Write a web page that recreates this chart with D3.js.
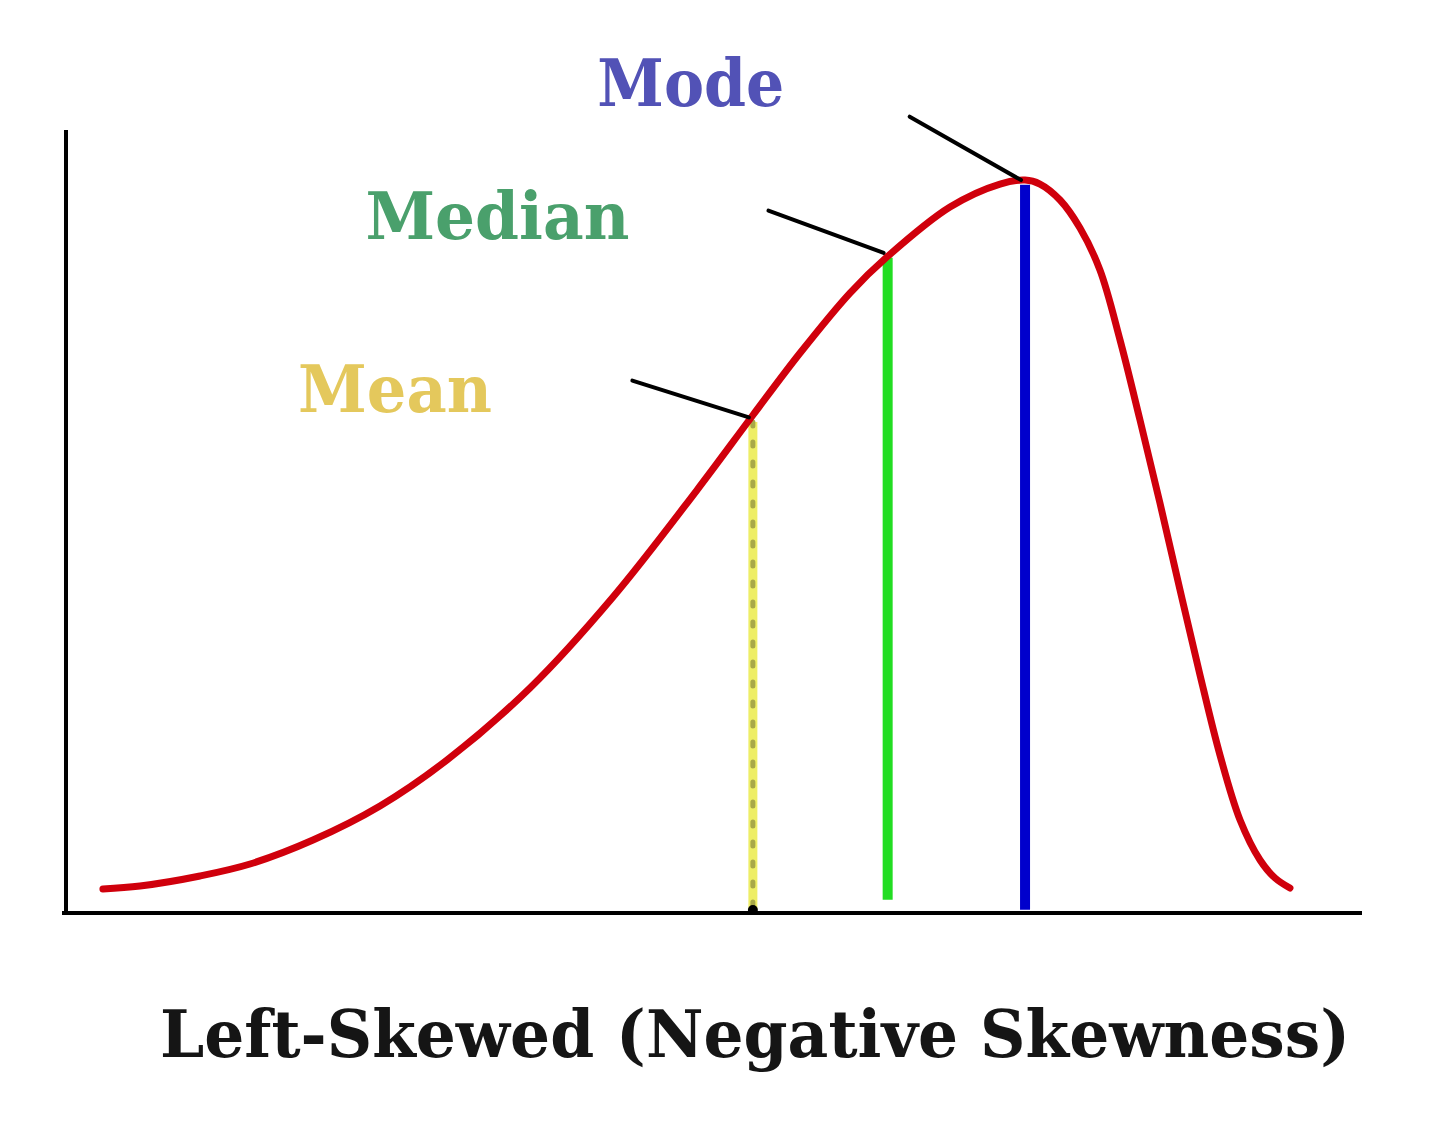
<!DOCTYPE html>
<html>
<head>
<meta charset="utf-8">
<script src="https://cdn.jsdelivr.net/npm/d3@7"></script>
<style>
  html, body { margin: 0; padding: 0; background: #fff; }
  svg { display: block; }
</style>
</head>
<body>
<script>
// ---- data (x: arbitrary value units 0-100, y: density 0-100) ----
const curveX = [2.85, 5.71, 10.34, 14.20, 19.06, 24.23, 29.40, 35.80, 42.21, 48.69, 53.01, 56.64, 60.49, 63.43, 68.21, 72.07, 74.00, 75.15, 76.70, 78.24, 79.78, 81.33, 82.87, 84.41, 85.96, 87.50, 89.04, 90.59, 92.13, 93.29, 94.44];
const curveY = [3.07, 3.45, 4.73, 6.26, 9.32, 13.67, 19.54, 28.74, 40.36, 54.02, 63.60, 71.52, 79.18, 83.91, 90.17, 93.10, 93.61, 93.10, 91.06, 87.48, 82.12, 73.18, 62.96, 52.36, 41.25, 30.40, 20.18, 11.88, 6.77, 4.47, 3.19];

const statNames  = ["Mean", "Median", "Mode"];
const statX      = [53.0, 63.4, 74.0];
const statTop    = [62.7, 83.7, 93.0];
const statBottom = [0.4, 1.7, 0.4];
// leader line start (value units) — ends on curve at the stat
const leaderX0   = [43.7, 54.2, 65.1];
const leaderY0   = [68.0, 89.7, 101.7];
// label anchor (value units, left / baseline)
const labelX     = [17.9, 23.1, 41.0];
const labelY     = [64.0, 86.1, 103.1];

const title = "Left-Skewed (Negative Skewness)";

// ---- layout ----
const W = 1440, H = 1141;
const x = d3.scaleLinear().domain([0, 100]).range([66, 1362]);
const y = d3.scaleLinear().domain([0, 100]).range([913, 130]);

const svg = d3.select("body").append("svg").attr("width", W).attr("height", H);

// axes
const xAxis = svg.append("g").attr("transform", `translate(0,${y(0)})`)
  .call(d3.axisBottom(x).ticks(0).tickSizeOuter(0));
xAxis.select(".domain").attr("stroke", "#000").attr("stroke-width", 4)
  .attr("d", `M${x(0) - 4},0H${x(100)}`);
const yAxis = svg.append("g").attr("transform", `translate(${x(0)},0)`)
  .call(d3.axisLeft(y).ticks(0).tickSizeOuter(0));
yAxis.select(".domain").attr("stroke", "#000").attr("stroke-width", 4)
  .attr("d", `M0,${y(0) + 2}V${y(100)}`);

// stat vertical lines
const statColors = ["#eeee66", "#22dd22", "#0000cc"];
statNames.forEach((n, i) => {
  svg.append("line")
    .attr("x1", x(statX[i])).attr("x2", x(statX[i]))
    .attr("y1", y(statTop[i])).attr("y2", y(statBottom[i]))
    .attr("stroke", statColors[i]).attr("stroke-width", i === 0 ? 9 : 10);
});
// dotted overlay for mean
svg.append("line")
  .attr("x1", x(statX[0])).attr("x2", x(statX[0]))
  .attr("y1", y(statTop[0])).attr("y2", y(statBottom[0]))
  .attr("stroke", "#a8a848").attr("stroke-width", 5)
  .attr("stroke-dasharray", "4,16").attr("stroke-linecap", "round");
// small black foot of mean line
svg.append("circle").attr("cx", x(statX[0])).attr("cy", y(0) - 3).attr("r", 5).attr("fill", "#000");

// curve
const pts = curveX.map((v, i) => [v, curveY[i]]);
const line = d3.line().x(d => x(d[0])).y(d => y(d[1])).curve(d3.curveCatmullRom.alpha(0.5));
svg.append("path").datum(pts).attr("d", line)
  .attr("fill", "none").attr("stroke", "#d0000c").attr("stroke-width", 7)
  .attr("stroke-linecap", "round");

// leader lines
statNames.forEach((n, i) => {
  const cy = statTop[i] + 0.6;
  svg.append("line")
    .attr("x1", x(leaderX0[i])).attr("y1", y(leaderY0[i]))
    .attr("x2", x(statX[i]) - 4).attr("y2", y(cy))
    .attr("stroke", "#000").attr("stroke-width", 4).attr("stroke-linecap", "round");
});

// labels
const labelColors = ["#e4c85c", "#4aa06c", "#5252b6"];
const labelWidths = [194, 264, 187];
statNames.forEach((n, i) => {
  svg.append("text")
    .attr("x", x(labelX[i])).attr("y", y(labelY[i]))
    .attr("font-family", "'DejaVu Serif', 'Liberation Serif', serif")
    .attr("font-weight", "bold").attr("font-size", 66)
    .attr("textLength", labelWidths[i]).attr("lengthAdjust", "spacingAndGlyphs")
    .attr("fill", labelColors[i])
    .text(n);
});

// title
svg.append("text")
  .attr("x", 160).attr("y", 1057)
  .attr("font-family", "'DejaVu Serif', 'Liberation Serif', serif")
  .attr("font-weight", "bold").attr("font-size", 66)
  .attr("textLength", 1190).attr("lengthAdjust", "spacingAndGlyphs")
  .attr("fill", "#151515")
  .text(title);
</script>
</body>
</html>
